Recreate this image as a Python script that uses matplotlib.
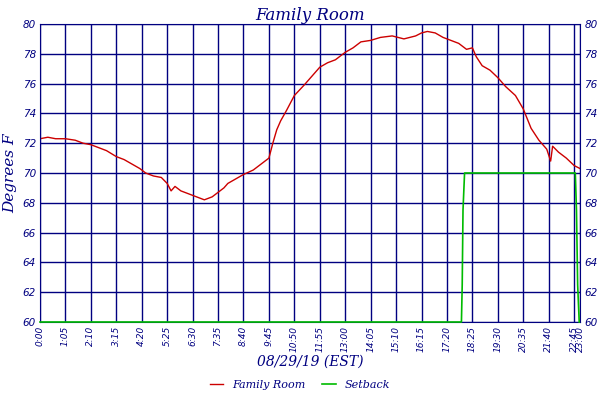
import matplotlib
matplotlib.use("Agg")
import matplotlib.pyplot as plt

# time in minutes since 0:00
room_t = [0, 20, 40, 65, 90, 110, 130, 150, 170, 195, 215, 235, 255, 270, 290, 310, 325, 335, 345, 360, 380, 400, 420, 440, 455, 470, 480, 500, 520, 545, 565, 585, 595, 605, 615, 630, 650, 675, 695, 715, 735, 755, 780, 800, 820, 845, 870, 900, 930, 960, 975, 990, 1010, 1030, 1050, 1070, 1090, 1105, 1115, 1130, 1150, 1170, 1190, 1215, 1235, 1255, 1275, 1295, 1305, 1310, 1325, 1345, 1365, 1380]
room_v = [72.3, 72.4, 72.3, 72.3, 72.2, 72.0, 71.9, 71.7, 71.5, 71.1, 70.9, 70.6, 70.3, 70.0, 69.8, 69.7, 69.3, 68.8, 69.1, 68.8, 68.6, 68.4, 68.2, 68.4, 68.7, 69.0, 69.3, 69.6, 69.9, 70.2, 70.6, 71.0, 72.0, 72.9, 73.5, 74.2, 75.2, 75.9, 76.5, 77.1, 77.4, 77.6, 78.1, 78.4, 78.8, 78.9, 79.1, 79.2, 79.0, 79.2, 79.4, 79.5, 79.4, 79.1, 78.9, 78.7, 78.3, 78.4, 77.8, 77.2, 76.9, 76.4, 75.8, 75.2, 74.3, 73.0, 72.2, 71.6, 70.8, 71.8, 71.4, 71.0, 70.5, 70.3]
setback_t = [0, 1077, 1079, 1081, 1085, 1368, 1371, 1374, 1378]
setback_v = [60, 60, 62.5, 67.5, 70, 70, 67.5, 62.5, 60]
tick_minutes = list(range(0, 1380, 65)) + [1380]
tick_labels = ["%d:%02d" % (m // 60, m % 60) if m // 60 < 10 else "%d:%02d" % (m // 60, m % 60) for m in tick_minutes]
tick_labels = [("0" + l if m < 600 else l) for l, m in zip(tick_labels, tick_minutes)]
tick_labels = [l[1:] if l.startswith("0") else l for l in tick_labels]
tick_labels[0] = "0:00"
y_ticks = list(range(60, 81, 2))

navy = "#000080"
fig = plt.figure(figsize=(6, 4), dpi=100)
ax = fig.add_axes([40/600, 78/400, 540/600, 298/400])
ax.plot(room_t, room_v, color="#cc0000", lw=1, label="Family Room")
ax.plot(setback_t, setback_v, color="#00bb00", lw=1.2, label="Setback", clip_on=False, zorder=5)
ax.set_xlim(0, 1380)
ax.set_ylim(60, 80)
ax.set_xticks(tick_minutes)
ax.set_xticklabels(tick_labels, rotation=90, fontsize=6.5, color=navy, style="italic")
ax.set_yticks(y_ticks)
ax.set_yticklabels(y_ticks, fontsize=7.5, color=navy, style="italic")
ax.grid(True, color=navy, lw=1)
ax.tick_params(length=0, pad=3)
for s in ax.spines.values():
    s.set_color(navy)
ax.tick_params(axis="y", which="both", labelright=True, right=False)
ax.set_ylabel("Degrees F", color=navy, fontsize=11, style="italic", family="DejaVu Serif", labelpad=4)
ax.set_xlabel("08/29/19 (EST)", color=navy, fontsize=10, style="italic", family="DejaVu Serif", labelpad=2)
ax.set_title("Family Room", color=navy, fontsize=12, style="italic", family="DejaVu Serif", pad=3)
fig.legend(loc="lower center", ncol=2, frameon=False, bbox_to_anchor=(0.5, 0.0),
           prop={"style": "italic", "family": "DejaVu Serif", "size": 8}, labelcolor=navy,
           handlelength=1.2, columnspacing=1.5)
fig.savefig("out.png", dpi=100)
